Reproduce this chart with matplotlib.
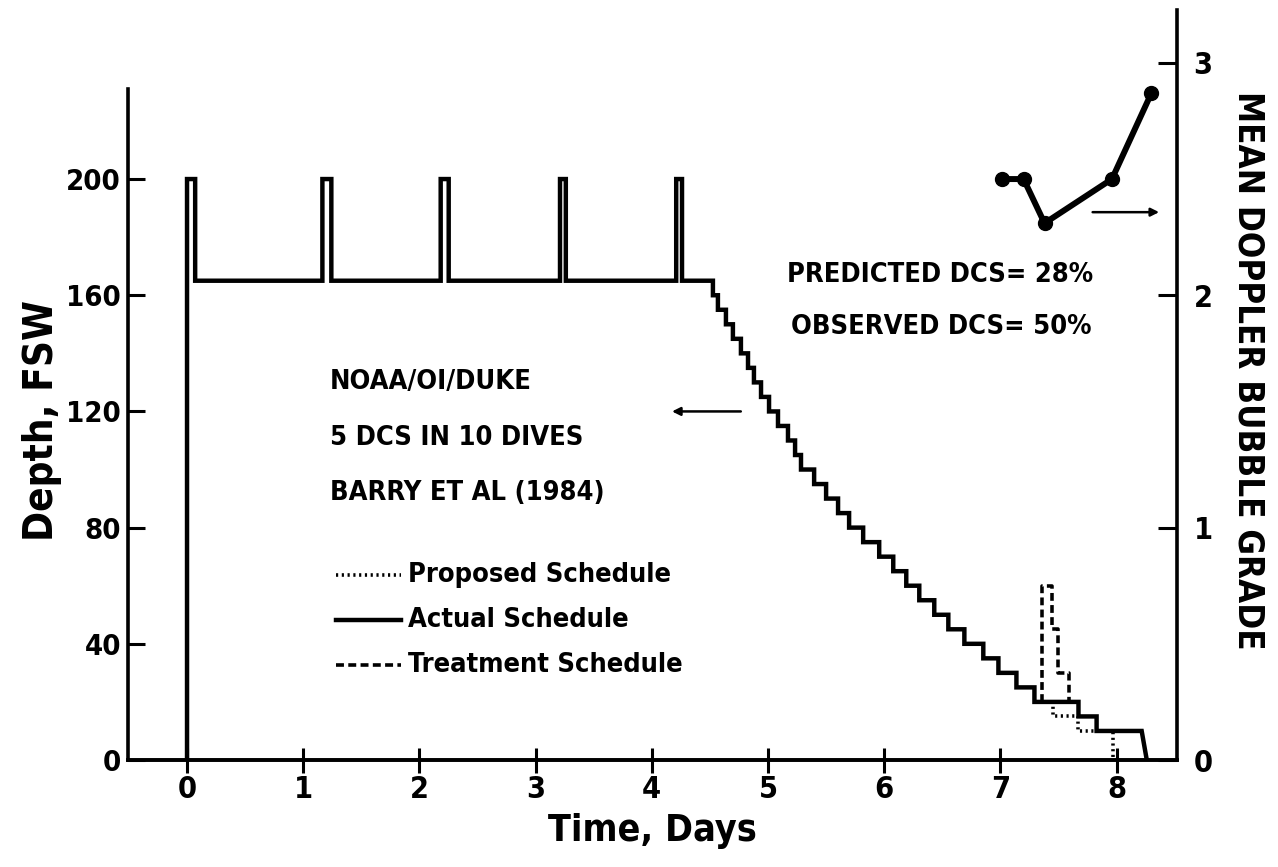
import matplotlib
matplotlib.use("Agg")
import matplotlib.pyplot as plt
import numpy as np

plt.rcParams['font.family'] = ['DejaVu Sans']
plt.rcParams['font.stretch'] = 'condensed'
plt.rcParams['font.weight'] = 'bold'
plt.rcParams['axes.labelweight'] = 'bold'

# ---------------- data ----------------
# excursions to 200 fsw from the 165 fsw saturation depth (up time, down time)
excursion_start = [0.0, 1.165, 2.183, 3.21, 4.21]
excursion_end = [0.07, 1.242, 2.252, 3.26, 4.26]
sat_depth = 165
excursion_depth = 200

# decompression stops: depth and time at which the stop ends
stop_depths = [165, 160, 155, 150, 145, 140, 135, 130, 125, 120, 115, 110, 105,
               100, 95, 90, 85, 80, 75, 70, 65, 60, 55, 50, 45, 40, 35, 30, 25,
               20, 15, 10]
stop_end_times = [4.526, 4.569, 4.638, 4.698, 4.767, 4.828, 4.879, 4.940, 5.009,
                  5.086, 5.172, 5.233, 5.284, 5.397, 5.500, 5.603, 5.698, 5.819,
                  5.957, 6.078, 6.190, 6.302, 6.431, 6.552, 6.690, 6.853, 6.983,
                  7.138, 7.293, 7.672, 7.828, 8.216]
surface_time = 8.26

# treatment schedule (dashed)
treat_t = [7.362, 7.362, 7.44, 7.44, 7.50, 7.50, 7.59, 7.59]
treat_d = [20, 60, 60, 45, 45, 30, 30, 20]

# proposed schedule (dotted) where it departs from actual
prop_t = [7.30, 7.455, 7.455, 7.672, 7.672, 7.97, 7.97]
prop_d = [20, 20, 15, 15, 10, 10, 0]

# mean doppler bubble grade
grade_t = [7.01, 7.20, 7.38, 7.96, 8.30]
grade_v = [2.50, 2.50, 2.31, 2.50, 2.87]

x_ticks = [0, 1, 2, 3, 4, 5, 6, 7, 8]
y_ticks = [0, 40, 80, 120, 160, 200]
y2_ticks = [0, 1, 2, 3]

# ---------------- build actual schedule path ----------------
act_t = [0.0]
act_d = [0]
for s, e in zip(excursion_start, excursion_end):
    act_t += [s, s, e, e]
    act_d += [act_d[-1], excursion_depth, excursion_depth, sat_depth]
for d, te in zip(stop_depths, stop_end_times):
    act_t += [act_t[-1], te]
    act_d += [d, d]
act_t.append(surface_time)
act_d.append(0)

# ---------------- figure ----------------
W, H = 1278, 867
fig = plt.figure(figsize=(W / 100, H / 100), dpi=100)
ax = fig.add_axes([128 / W, 1 - 760 / H, (1177 - 128) / W, (760 - 10) / H])
ax2 = ax.twinx()

lw = 3.2
ax.plot(act_t, act_d, color='black', lw=lw, solid_joinstyle='miter', zorder=3)
ax.plot(treat_t, treat_d, color='black', lw=lw * 0.8, ls=(0, (2.2, 1.2)), zorder=3)
ax.plot(prop_t, prop_d, color='black', lw=lw * 0.8, ls=(0, (0.6, 1.0)), zorder=2)

ax.set_xlim(-0.508, 8.52)
ax.set_ylim(0, 258.2)
ax2.set_ylim(0, 258.2 / 80)

ax2.plot(grade_t, grade_v, color='black', lw=4.3, marker='o', ms=10, zorder=4)

for a in (ax, ax2):
    a.spines['top'].set_visible(False)
    for sp in a.spines.values():
        sp.set_linewidth(2.6)
ax.spines['right'].set_visible(False)
ax2.spines['left'].set_visible(False)
ax.spines['left'].set_bounds(0, 231)

ax.set_xticks(x_ticks)
ax.set_xticklabels([str(v) for v in x_ticks])
ax.set_yticks(y_ticks)
ax.set_yticklabels([str(v) for v in y_ticks])
ax2.set_yticks(y2_ticks)
ax2.set_yticklabels([str(v) for v in y2_ticks])

ax.tick_params(axis='x', direction='inout', length=18, width=2.2, labelsize=22, pad=2)
ax.tick_params(axis='y', direction='in', length=12, width=2.2, labelsize=21, pad=5)
ax2.tick_params(axis='y', direction='in', length=14, width=2.2, labelsize=22, pad=12)

ax.set_xlabel('Time, Days', fontsize=27, labelpad=6)
ax.set_ylabel('Depth, FSW', fontsize=29, va='center')
ax.yaxis.set_label_coords((42 - 128) / 1049, 0.453)
ax2.set_ylabel('MEAN DOPPLER BUBBLE GRADE', fontsize=25, rotation=-90, va='center')
ax2.yaxis.set_label_coords((1248 - 128) / 1049, 0.52)

# annotations
fs = 19.5
ax.text(1.23, 130, 'NOAA/OI/DUKE', fontsize=fs, va='center', ha='left')
ax.text(1.23, 111, '5 DCS IN 10 DIVES', fontsize=fs, va='center', ha='left')
ax.text(1.23, 92, 'BARRY ET AL (1984)', fontsize=fs, va='center', ha='left')
ax.text(5.16, 167, 'PREDICTED DCS= 28%', fontsize=fs, va='center', ha='left')
ax.text(5.20, 149, 'OBSERVED DCS= 50%', fontsize=fs, va='center', ha='left')

ax.annotate('', xy=(4.15, 120), xytext=(4.79, 120),
            arrowprops=dict(arrowstyle='-|>', color='black', lw=1.8, mutation_scale=12))
ax.annotate('', xy=(8.39, 188.6), xytext=(7.77, 188.6),
            arrowprops=dict(arrowstyle='-|>', color='black', lw=1.8, mutation_scale=12))

# legend drawn as lines + text
leg_labels = ['Proposed Schedule', 'Actual Schedule', 'Treatment Schedule']
leg_styles = [(0, (0.6, 1.0)), '-', (0, (2.2, 1.2))]
leg_y = [63.7, 48.2, 32.7]
for lab, st, yy in zip(leg_labels, leg_styles, leg_y):
    ax.plot([1.28, 1.84], [yy, yy], color='black', lw=2.6 if st != '-' else 3.2, ls=st)
    ax.text(1.90, yy, lab, fontsize=19.5, va='center', ha='left')

fig.savefig('out.png', dpi=100)
